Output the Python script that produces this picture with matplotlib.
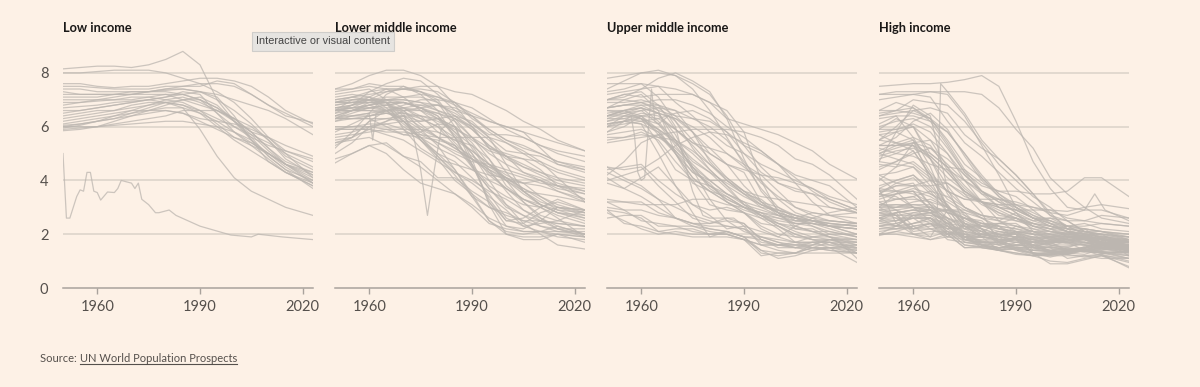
import matplotlib.pyplot as plt
from matplotlib.lines import Line2D

# 合計特殊出生率 (births per woman)
YEARS = [1950, 1955, 1960, 1965, 1970, 1975, 1980, 1985, 1990, 1995, 2000, 2005, 2010, 2015, 2023]

LOW_INCOME = [
   [8.15, 8.2, 8.25, 8.25, 8.2, 8.3, 8.5, 8.8, 8.3, 7.0, 6.2, 5.7, 5.1, 4.6, 3.9],
   [8.0, 8.0, 8.05, 8.1, 8.1, 8.1, 8.0, 7.8, 7.6, 7.3, 6.9, 6.3, 5.6, 5.0, 4.1],
   [7.6, 7.6, 7.5, 7.45, 7.5, 7.5, 7.6, 7.7, 7.8, 7.8, 7.7, 7.5, 7.1, 6.6, 6.1],
   [7.5, 7.5, 7.45, 7.4, 7.4, 7.4, 7.5, 7.5, 7.5, 7.7, 7.6, 7.2, 6.8, 6.5, 6.0],
   [7.4, 7.4, 7.3, 7.3, 7.3, 7.3, 7.35, 7.4, 7.3, 7.2, 7.0, 6.8, 6.6, 6.3, 5.7],
   [7.3, 7.2, 7.2, 7.2, 7.2, 7.2, 7.2, 7.0, 6.8, 6.6, 6.2, 5.8, 5.6, 5.3, 4.9],
   [7.1, 7.1, 7.1, 7.2, 7.2, 7.3, 7.3, 7.2, 7.0, 6.5, 6.0, 5.6, 5.3, 5.1, 4.8],
   [7.0, 7.0, 7.0, 7.0, 7.1, 7.1, 7.0, 6.9, 6.6, 6.1, 5.6, 5.4, 5.0, 4.6, 4.3],
   [6.9, 6.9, 6.95, 7.0, 7.0, 7.1, 7.2, 7.2, 7.0, 6.7, 6.2, 5.6, 4.9, 4.4, 4.0],
   [6.7, 6.75, 6.8, 6.9, 6.95, 7.0, 7.1, 7.2, 7.3, 7.1, 6.4, 5.5, 4.7, 4.3, 3.8],
   [6.6, 6.6, 6.7, 6.8, 6.9, 7.0, 7.1, 7.3, 7.2, 6.5, 5.8, 5.3, 4.8, 4.3, 3.9],
   [6.4, 6.5, 6.6, 6.6, 6.7, 6.8, 7.0, 7.1, 6.9, 6.6, 6.3, 6.0, 5.5, 4.8, 4.2],
   [6.3, 6.4, 6.5, 6.6, 6.8, 6.9, 6.9, 6.8, 6.6, 6.3, 6.0, 5.7, 5.4, 5.0, 4.5],
   [6.2, 6.3, 6.4, 6.5, 6.6, 6.6, 6.6, 6.5, 6.2, 5.9, 5.6, 5.3, 5.0, 4.6, 4.1],
   [6.1, 6.2, 6.3, 6.4, 6.5, 6.7, 6.9, 7.0, 7.0, 6.7, 6.3, 5.8, 5.2, 4.6, 4.0],
   [6.0, 6.1, 6.2, 6.3, 6.5, 6.6, 6.7, 6.7, 6.5, 6.2, 5.8, 5.4, 5.0, 4.5, 3.9],
   [5.95, 6.05, 6.2, 6.4, 6.6, 6.8, 6.9, 6.8, 6.5, 6.0, 5.5, 5.1, 4.7, 4.3, 3.8],
   [5.9, 5.95, 6.0, 6.1, 6.2, 6.3, 6.4, 6.6, 6.6, 6.6, 6.3, 5.8, 5.2, 4.7, 4.3],
   [5.85, 5.9, 6.0, 6.2, 6.4, 6.5, 6.6, 6.5, 6.3, 6.2, 6.1, 5.9, 5.6, 5.1, 4.7],
   [6.5, 6.6, 6.7, 6.8, 6.9, 7.0, 6.9, 6.7, 5.9, 4.9, 4.1, 3.6, 3.3, 3.0, 2.7],
   [6.0, 6.0, 6.0, 6.05, 6.1, 6.15, 6.2, 6.2, 6.1, 6.0, 5.8, 5.5, 5.0, 4.6, 4.2],
   [7.2, 7.2, 7.2, 7.2, 7.3, 7.3, 7.4, 7.5, 7.6, 7.6, 7.5, 7.2, 6.8, 6.4, 6.15],
   [6.8, 6.9, 7.0, 7.1, 7.2, 7.3, 7.4, 7.4, 7.3, 7.0, 6.6, 6.1, 5.5, 4.9, 4.4],
   [6.05, 6.1, 6.2, 6.3, 6.4, 6.6, 6.8, 7.0, 7.1, 6.8, 6.2, 5.5, 4.9, 4.4, 3.7],
]
NK_YEARS = [1950, 1951, 1952, 1954, 1955, 1956, 1957, 1958, 1959, 1960,
            1961, 1963, 1965, 1966, 1967, 1970, 1971, 1972, 1973, 1975,
            1977, 1978, 1981, 1983, 1990, 1999, 2005, 2007, 2014, 2023]
NK_TFR = [5.0, 2.6, 2.6, 3.4, 3.65, 3.6, 4.3, 4.3, 3.6, 3.55,
          3.27, 3.57, 3.55, 3.7, 4.0, 3.9, 3.7, 3.9, 3.3, 3.1,
          2.8, 2.8, 2.9, 2.7, 2.3, 1.97, 1.9, 2.0, 1.9, 1.8]

LOWER_MIDDLE = [
   [6.6, 6.7, 6.7, 6.6, 6.0, 5.6, 5.5, 5.3, 4.6, 3.8, 3.4, 3.1, 3.0, 3.3, 2.9],
   [5.9, 5.9, 5.9, 5.7, 5.5, 5.1, 4.7, 4.3, 4.0, 3.6, 3.3, 2.9, 2.6, 2.3, 2.0],
   [6.6, 6.6, 6.6, 6.6, 6.6, 6.6, 6.5, 6.3, 6.0, 5.5, 4.9, 4.3, 4.0, 3.7, 3.5],
   [6.4, 6.6, 6.8, 6.9, 6.9, 6.7, 6.4, 5.6, 4.5, 3.7, 3.1, 2.7, 2.3, 2.1, 2.0],
   [6.3, 6.4, 6.5, 6.6, 6.7, 6.8, 6.8, 6.6, 6.4, 6.2, 6.0, 5.8, 5.6, 5.4, 5.1],
   [7.4, 7.6, 7.9, 8.1, 8.1, 7.9, 7.5, 6.8, 6.0, 5.2, 5.0, 4.8, 4.4, 3.8, 3.3],
   [7.1, 7.2, 7.1, 6.7, 6.2, 5.6, 5.2, 4.9, 4.4, 4.0, 3.7, 3.3, 3.0, 2.6, 1.9],
   [5.3, 5.6, 6.2, 6.3, 6.4, 5.5, 4.8, 4.0, 3.5, 2.5, 2.0, 1.9, 1.9, 2.0, 1.9],
   [6.3, 6.5, 6.7, 6.8, 6.9, 6.7, 6.5, 6.2, 5.6, 5.0, 4.6, 4.3, 4.1, 3.8, 3.6],
   [6.9, 7.0, 7.0, 6.9, 6.6, 5.9, 5.3, 4.4, 3.5, 3.0, 2.7, 2.5, 2.5, 2.4, 2.3],
   [7.3, 7.4, 7.6, 7.5, 7.5, 7.2, 6.6, 5.6, 4.6, 3.3, 2.5, 2.4, 2.8, 3.0, 2.9],
   [6.6, 7.0, 7.0, 6.9, 6.2, 5.5, 5.0, 4.4, 3.4, 2.5, 2.1, 2.0, 2.1, 2.3, 2.0],
   [6.9, 6.9, 6.9, 6.9, 6.4, 6.2, 6.3, 6.0, 4.8, 3.1, 2.0, 1.8, 1.8, 2.0, 1.7],
   [6.0, 6.0, 6.0, 6.1, 6.2, 6.2, 6.3, 6.4, 6.2, 5.6, 4.6, 3.6, 3.1, 2.8, 2.5],
   [5.9, 6.0, 6.1, 6.1, 5.9, 5.5, 4.9, 4.2, 3.4, 3.0, 2.8, 2.5, 2.3, 2.2, 2.2],
   [5.2, 5.8, 6.5, 7.2, 7.5, 7.3, 6.9, 6.0, 4.6, 3.2, 2.3, 2.2, 2.5, 3.0, 2.7],
   [5.6, 5.7, 5.8, 5.9, 5.9, 5.9, 5.8, 5.5, 5.1, 4.6, 4.0, 3.2, 2.6, 2.2, 2.0],
   [4.65, 5.0, 5.3, 5.0, 4.4, 3.9, 3.7, 3.5, 3.0, 2.4, 2.2, 2.1, 2.1, 2.0, 1.9],
   [6.6, 6.6, 6.6, 6.5, 6.4, 6.0, 5.6, 5.2, 4.8, 4.4, 4.0, 3.5, 3.1, 2.8, 2.6],
   [7.4, 7.4, 7.5, 7.4, 7.1, 6.6, 6.1, 5.4, 4.8, 4.3, 3.7, 3.2, 2.7, 2.5, 2.3],
   [7.2, 7.3, 7.4, 7.0, 6.7, 6.3, 6.0, 5.3, 4.5, 3.7, 3.0, 2.7, 2.5, 2.4, 2.3],
   [6.6, 6.7, 6.8, 6.6, 6.1, 5.6, 4.9, 4.3, 3.9, 3.4, 2.9, 2.3, 2.1, 1.9, 1.8],
   [6.3, 6.3, 6.3, 6.0, 5.7, 5.8, 6.1, 6.0, 5.4, 4.6, 4.2, 3.9, 3.4, 3.0, 2.8],
   [6.7, 6.8, 7.1, 7.4, 7.4, 7.3, 7.1, 6.8, 6.5, 6.2, 6.0, 5.8, 5.2, 4.6, 4.3],
   [6.7, 6.8, 6.9, 7.0, 7.0, 6.9, 6.8, 6.5, 6.1, 5.7, 5.7, 5.6, 5.3, 5.0, 4.7],
   [6.6, 6.8, 7.0, 7.3, 7.4, 7.4, 7.3, 6.9, 6.3, 5.9, 5.5, 5.2, 5.0, 4.7, 4.4],
   [5.5, 5.6, 5.9, 6.2, 6.6, 6.7, 6.8, 6.7, 6.4, 5.9, 5.5, 5.3, 5.0, 4.7, 4.5],
   [6.5, 6.8, 7.3, 7.6, 7.8, 7.7, 7.2, 6.6, 6.1, 5.6, 5.1, 5.0, 4.9, 4.6, 4.4],
   [7.0, 7.1, 7.2, 7.3, 7.4, 7.5, 7.5, 7.3, 7.2, 6.9, 6.6, 6.2, 5.9, 5.5, 5.1],
   [5.8, 6.1, 6.4, 6.6, 6.8, 7.0, 7.0, 6.9, 6.7, 6.3, 5.9, 5.6, 5.3, 5.1, 4.9],
   [5.9, 5.9, 5.9, 5.8, 5.8, 5.7, 5.6, 5.3, 4.9, 4.5, 4.1, 3.6, 3.2, 3.0, 2.9],
   [6.9, 7.1, 7.3, 7.4, 7.4, 7.3, 7.0, 6.2, 5.2, 4.3, 4.0, 3.9, 4.0, 3.8, 3.5],
   [4.8, 5.0, 5.3, 5.4, 4.9, 4.7, 4.1, 4.1, 3.6, 3.2, 2.5, 2.6, 3.0, 3.2, 2.9],
   [5.0, 5.4, 6.0, 5.9, 5.7, 5.6, 5.0, 4.7, 4.1, 3.5, 2.6, 2.3, 2.4, 2.5, 2.9],
   [5.4, 5.6, 6.2, 6.6, 6.7, 6.4, 5.8, 5.5, 5.3, 4.8, 4.0, 3.6, 3.5, 3.4, 3.2],
   [6.3, 6.3, 6.3, 6.3, 6.2, 5.8, 5.4, 5.0, 4.7, 4.6, 4.4, 4.2, 4.0, 3.6, 3.2],
   [6.4, 6.6, 6.8, 7.0, 7.1, 7.1, 6.9, 6.4, 5.9, 5.3, 4.8, 4.5, 4.3, 4.1, 3.9],
   [6.5, 6.6, 6.7, 6.8, 6.9, 6.8, 6.6, 6.3, 5.9, 5.3, 4.9, 4.5, 4.2, 3.9, 3.6],
   [6.7, 6.7, 6.8, 6.9, 6.9, 6.7, 6.3, 5.7, 5.0, 4.2, 3.7, 3.3, 3.1, 2.9, 2.8],
   [6.6, 6.6, 6.7, 6.7, 6.7, 6.6, 6.3, 5.8, 5.0, 4.0, 3.1, 2.4, 2.0, 1.6, 1.45],
   [6.6, 6.7, 7.0, 7.0, 6.9, 6.7, 6.4, 5.8, 5.3, 4.4, 3.6, 2.9, 2.5, 2.2, 1.9],
   [5.4, 5.5, 5.6, 5.3, 4.9, 4.5, 4.0, 3.5, 3.1, 2.6, 2.3, 2.1, 2.1, 2.1, 2.1],
   [6.8, 6.9, 7.0, 7.1, 7.1, 7.2, 7.1, 6.9, 6.4, 5.8, 5.4, 5.0, 4.6, 4.3, 4.0],
   [5.7, 5.8, 6.0, 6.2, 6.4, 6.4, 6.3, 6.0, 5.5, 5.1, 4.9, 4.8, 4.7, 4.4, 4.1],
   [6.8, 6.9, 7.0, 7.0, 7.0, 6.9, 6.6, 6.4, 6.0, 5.2, 4.3, 3.6, 3.1, 2.8, 2.7],
   [6.9, 7.0, 7.1, 6.9, 5.9, 5.2, 4.8, 4.6, 4.4, 4.2, 4.1, 3.9, 3.8, 3.6, 3.3],
   [6.9, 6.9, 6.9, 6.8, 6.6, 6.1, 5.6, 5.2, 4.8, 4.4, 4.1, 3.7, 3.3, 2.9, 2.6],
   [6.4, 6.4, 6.4, 6.5, 6.3, 5.9, 5.6, 5.6, 5.6, 5.6, 5.4, 5.1, 4.7, 4.1, 3.2],
   [6.2, 6.3, 6.4, 6.5, 6.5, 6.4, 6.2, 5.9, 5.6, 5.2, 4.9, 4.6, 4.3, 4.0, 3.8],
   [7.0, 7.1, 7.0, 6.6, 6.2, 5.7, 5.4, 5.1, 4.8, 4.5, 4.3, 4.1, 3.9, 3.8, 3.7],
]
KH_YEARS = [1950, 1955, 1960, 1965, 1970, 1973, 1975, 1977, 1979, 1981, 1985,
            1990, 1995, 2000, 2005, 2010, 2015, 2023]
KH_TFR = [6.3, 6.6, 6.9, 6.9, 6.5, 5.6, 4.4, 2.7, 4.4, 5.9, 6.3,
          5.6, 4.8, 3.8, 3.3, 3.0, 2.7, 2.4]
LM_DIP_YEARS = [1950, 1955, 1960, 1961, 1962, 1965, 1970, 1975, 1980, 1985,
                1990, 1995, 2000, 2005, 2010, 2015, 2023]
LM_DIP_TFR = [6.2, 6.4, 6.5, 5.5, 6.5, 6.6, 6.5, 6.3, 6.0, 5.6,
              5.1, 4.6, 4.1, 3.7, 3.4, 3.1, 2.8]

UPPER_MIDDLE = [
   [6.1, 6.2, 6.1, 5.8, 5.0, 4.3, 3.9, 3.2, 2.8, 2.4, 2.3, 2.0, 1.8, 1.8, 1.6],
   [6.7, 6.8, 6.8, 6.8, 6.6, 5.8, 4.7, 4.0, 3.5, 3.0, 2.7, 2.4, 2.3, 2.0, 1.8],
   [5.5, 5.6, 5.7, 5.6, 5.5, 5.0, 4.4, 3.8, 3.1, 2.7, 2.5, 2.4, 2.4, 2.3, 2.2],
   [6.6, 6.6, 6.3, 5.9, 5.4, 4.8, 4.3, 3.7, 3.1, 2.7, 2.4, 2.2, 2.1, 2.1, 1.9],
   [6.1, 6.2, 6.3, 6.1, 5.5, 4.4, 3.3, 2.5, 2.1, 1.9, 1.7, 1.6, 1.5, 1.4, 1.3],
   [6.4, 6.6, 6.8, 6.5, 5.5, 4.4, 3.8, 3.4, 3.0, 2.8, 2.4, 2.1, 1.9, 1.8, 1.7],
   [6.3, 6.3, 6.2, 5.9, 5.5, 5.1, 4.6, 4.1, 3.6, 3.1, 2.8, 2.6, 2.5, 2.4, 2.3],
   [2.9, 2.8, 2.6, 2.1, 2.0, 1.9, 1.9, 2.1, 1.9, 1.3, 1.2, 1.3, 1.6, 1.8, 1.5],
   [3.2, 3.2, 3.1, 3.1, 3.1, 3.3, 3.3, 3.1, 3.0, 2.8, 2.6, 2.4, 2.4, 2.2, 1.9],
   [6.9, 6.9, 7.0, 6.8, 6.4, 5.8, 5.2, 4.6, 3.8, 3.2, 2.8, 2.6, 2.5, 2.3, 2.2],
   [6.2, 6.4, 6.3, 5.8, 5.1, 4.3, 4.0, 4.0, 3.5, 3.3, 2.8, 2.3, 2.1, 1.9, 1.8],
   [7.2, 7.3, 7.4, 7.5, 7.4, 7.2, 6.9, 6.3, 6.1, 5.9, 5.7, 5.4, 5.1, 4.6, 4.05],
   [7.4, 7.7, 8.0, 8.0, 7.9, 7.6, 7.2, 6.4, 5.3, 4.5, 3.9, 3.7, 3.5, 3.0, 2.8],
   [7.0, 7.1, 7.4, 7.8, 8.0, 7.7, 7.3, 6.3, 4.8, 3.6, 2.9, 2.5, 2.4, 2.3, 2.4],
   [7.0, 7.0, 6.9, 6.6, 6.4, 6.3, 6.2, 5.8, 5.3, 5.0, 4.6, 3.9, 3.2, 2.7, 2.4],
   [6.4, 6.4, 6.4, 6.3, 5.9, 5.4, 5.2, 5.0, 4.6, 4.2, 3.6, 3.0, 2.7, 2.5, 2.4],
   [6.7, 6.8, 6.9, 6.7, 6.2, 5.5, 4.8, 4.1, 3.6, 3.2, 3.0, 2.7, 2.5, 2.3, 2.0],
   [7.6, 7.6, 7.6, 7.1, 6.2, 5.2, 4.4, 3.8, 3.4, 3.1, 2.9, 2.7, 2.5, 2.3, 2.2],
   [4.4, 4.5, 4.6, 4.0, 3.5, 3.1, 2.9, 3.0, 2.8, 2.2, 1.9, 2.3, 2.6, 2.8, 3.0],
   [4.5, 4.4, 4.5, 3.8, 3.2, 2.6, 2.4, 2.5, 2.4, 1.8, 1.6, 1.6, 1.6, 1.6, 1.6],
   [5.6, 5.6, 5.8, 5.5, 4.7, 4.0, 3.1, 2.9, 2.8, 2.3, 2.0, 1.9, 1.9, 1.9, 1.6],
   [3.0, 2.9, 2.9, 2.7, 2.6, 2.4, 2.3, 2.3, 2.2, 1.7, 1.6, 1.7, 1.9, 2.0, 2.0],
   [2.6, 2.7, 2.7, 2.3, 2.3, 2.1, 2.0, 2.1, 1.9, 1.4, 1.3, 1.3, 1.5, 1.7, 1.3],
   [2.9, 2.4, 2.3, 2.1, 2.2, 2.2, 2.0, 2.0, 1.8, 1.2, 1.3, 1.3, 1.5, 1.5, 1.6],
   [3.2, 2.9, 2.5, 2.4, 2.3, 2.3, 2.2, 2.1, 1.9, 1.8, 1.6, 1.5, 1.4, 1.5, 1.5],
   [4.3, 4.0, 3.7, 3.3, 2.6, 2.3, 2.1, 2.0, 1.8, 1.6, 1.4, 1.3, 1.3, 1.3, 1.3],
   [6.1, 6.2, 6.4, 5.7, 5.1, 4.5, 3.7, 3.3, 3.0, 2.6, 2.2, 1.7, 1.7, 1.5, 1.4],
   [4.5, 4.1, 3.8, 3.3, 3.0, 2.7, 2.5, 2.3, 2.2, 1.9, 1.7, 1.5, 1.5, 1.5, 1.3],
   [3.3, 3.2, 3.2, 2.8, 2.6, 2.4, 2.4, 2.6, 2.4, 1.8, 1.5, 1.5, 1.6, 1.8, 1.8],
   [3.9, 3.7, 3.4, 3.0, 2.6, 2.4, 2.2, 2.1, 1.9, 1.9, 1.8, 1.7, 1.7, 1.7, 1.7],
   [4.1, 3.7, 4.1, 4.5, 3.8, 2.8, 1.9, 1.9, 1.8, 1.6, 1.6, 1.5, 1.7, 1.7, 1.45],
   [4.2, 4.7, 5.4, 5.7, 5.0, 4.1, 3.6, 3.2, 2.8, 2.6, 2.4, 2.3, 2.1, 1.9, 1.3],
   [6.7, 7.0, 7.2, 6.6, 5.0, 3.9, 3.6, 3.4, 3.0, 2.7, 2.3, 1.9, 1.8, 1.7, 1.5],
   [5.7, 5.8, 5.9, 5.6, 5.2, 4.6, 4.0, 3.5, 3.1, 2.9, 2.7, 2.5, 2.5, 2.4, 2.3],
   [4.0, 4.2, 4.4, 4.8, 5.3, 5.6, 5.8, 5.7, 5.4, 5.1, 4.6, 4.2, 4.0, 3.8, 3.0],
   [5.4, 5.5, 5.6, 5.7, 5.8, 5.9, 5.9, 5.9, 5.8, 5.6, 5.3, 4.8, 4.6, 4.2, 3.3],
   [6.4, 6.5, 6.6, 6.7, 6.6, 6.3, 6.0, 5.5, 4.7, 3.9, 3.4, 3.0, 2.8, 2.7, 2.8],
   [6.0, 6.1, 6.2, 6.3, 6.5, 6.6, 6.3, 5.8, 5.0, 4.3, 3.9, 3.6, 3.5, 3.3, 2.9],
   [6.6, 6.5, 6.3, 5.4, 4.4, 4.0, 3.8, 3.5, 3.2, 3.0, 2.9, 2.7, 2.6, 2.5, 2.4],
   [7.3, 7.4, 7.6, 7.5, 6.9, 6.4, 5.8, 5.3, 5.0, 4.6, 4.3, 4.0, 3.7, 3.3, 2.9],
   [5.8, 6.0, 6.4, 6.5, 6.3, 5.8, 5.0, 4.6, 4.3, 3.2, 2.7, 2.6, 2.8, 2.7, 2.6],
   [6.3, 6.5, 6.7, 6.5, 5.7, 4.5, 3.8, 3.3, 3.0, 2.8, 2.7, 2.6, 2.5, 2.4, 2.3],
   [6.4, 6.6, 6.4, 5.9, 5.0, 4.1, 3.6, 3.2, 2.9, 2.7, 2.6, 2.5, 2.5, 2.5, 2.4],
   [6.4, 6.6, 6.7, 6.5, 6.3, 6.0, 5.6, 5.0, 4.5, 4.0, 3.3, 2.8, 2.6, 2.3, 2.0],
   [7.0, 7.2, 7.1, 7.2, 7.2, 7.2, 6.9, 6.6, 5.8, 4.0, 2.8, 2.2, 2.2, 1.9, 1.7],
   [2.8, 2.5, 2.2, 2.0, 2.1, 2.0, 2.0, 2.0, 1.8, 1.4, 1.1, 1.2, 1.4, 1.5, 0.95],
   [6.0, 6.2, 6.1, 5.0, 3.8, 3.1, 2.7, 2.2, 2.3, 2.1, 1.9, 1.7, 1.5, 1.4, 1.3],
   [7.0, 7.2, 7.3, 6.8, 5.9, 5.4, 5.0, 4.6, 4.4, 4.2, 4.1, 3.9, 3.7, 3.4, 3.1],
   [6.7, 6.8, 6.9, 7.0, 7.0, 6.8, 6.5, 6.0, 5.6, 5.1, 4.6, 4.1, 3.6, 3.2, 2.8],
   [6.0, 6.4, 6.6, 6.1, 5.3, 4.5, 4.0, 3.5, 3.2, 2.7, 2.3, 2.0, 1.8, 1.6, 1.4],
   [6.5, 6.6, 6.7, 6.2, 5.4, 4.7, 4.3, 3.9, 3.5, 3.1, 2.8, 2.6, 2.4, 2.3, 2.2],
   [6.2, 6.3, 6.5, 6.4, 5.9, 5.3, 4.6, 4.0, 3.6, 3.4, 3.3, 3.2, 3.1, 3.0, 2.8],
   [7.8, 7.9, 8.0, 8.1, 7.9, 7.4, 6.6, 5.6, 4.6, 3.7, 3.0, 2.6, 2.3, 2.1, 1.9],
]
CN_YEARS = [1950, 1955, 1957, 1958, 1959, 1960, 1961, 1962, 1963, 1964,
            1965, 1968, 1970, 1972, 1975, 1978, 1980, 1985, 1987, 1990,
            1995, 2000, 2005, 2010, 2015, 2017, 2023]
CN_TFR = [5.8, 6.2, 6.4, 5.7, 4.3, 4.0, 4.1, 5.8, 7.4, 6.2,
          6.1, 6.4, 6.0, 5.0, 3.6, 2.7, 2.6, 2.6, 2.6, 2.3,
          1.6, 1.6, 1.6, 1.7, 1.8, 1.8, 1.1]

HIGH_INCOME = [
   [3.0, 3.5, 3.6, 2.9, 2.4, 1.8, 1.8, 1.8, 2.1, 2.0, 2.0, 2.05, 1.9, 1.85, 1.65],
   [2.2, 2.3, 2.7, 2.8, 2.4, 1.8, 1.9, 1.8, 1.8, 1.7, 1.65, 1.8, 1.9, 1.8, 1.55],
   [2.9, 2.7, 2.7, 2.8, 2.5, 1.9, 1.9, 1.8, 1.8, 1.7, 1.9, 1.9, 2.0, 1.9, 1.8],
   [2.1, 2.2, 2.4, 2.5, 2.0, 1.5, 1.55, 1.4, 1.45, 1.25, 1.35, 1.35, 1.4, 1.5, 1.55],
   [2.5, 2.3, 2.4, 2.6, 2.4, 2.1, 1.6, 1.4, 1.3, 1.2, 1.25, 1.3, 1.45, 1.35, 1.25],
   [2.5, 2.5, 2.8, 2.9, 2.9, 2.8, 2.2, 1.6, 1.4, 1.2, 1.2, 1.35, 1.35, 1.35, 1.2],
   [3.7, 2.4, 2.0, 2.1, 2.1, 1.9, 1.75, 1.75, 1.55, 1.4, 1.35, 1.3, 1.4, 1.45, 1.3],
   [3.5, 3.8, 3.8, 3.1, 2.3, 1.8, 1.7, 1.6, 1.7, 1.6, 1.5, 1.55, 1.65, 1.6, 1.45],
   [3.1, 3.3, 3.4, 3.0, 2.9, 2.2, 1.9, 1.9, 1.9, 1.8, 1.75, 1.85, 1.95, 1.8, 1.7],
   [3.1, 3.1, 3.1, 3.0, 2.6, 1.7, 1.6, 1.5, 1.6, 1.55, 1.7, 1.7, 1.8, 1.65, 1.6],
   [2.3, 2.2, 2.2, 2.4, 1.9, 1.8, 1.7, 1.7, 2.1, 1.7, 1.55, 1.75, 1.95, 1.85, 1.7],
   [2.5, 2.8, 2.9, 2.9, 2.5, 2.0, 1.7, 1.7, 1.9, 1.85, 1.85, 1.85, 1.95, 1.7, 1.5],
   [2.6, 2.5, 2.6, 2.6, 2.0, 1.9, 1.5, 1.45, 1.7, 1.8, 1.75, 1.8, 1.85, 1.7, 1.7],
   [3.2, 2.9, 2.7, 2.4, 1.8, 1.7, 1.6, 1.65, 1.8, 1.8, 1.7, 1.8, 1.85, 1.65, 1.45],
   [2.3, 2.4, 2.6, 2.6, 2.2, 1.7, 1.7, 1.5, 1.6, 1.55, 1.65, 1.75, 1.85, 1.7, 1.6],
   [2.0, 2.3, 2.7, 2.7, 2.3, 1.8, 1.65, 1.45, 1.45, 1.4, 1.35, 1.4, 1.45, 1.5, 1.45],
   [2.4, 2.3, 2.4, 2.6, 2.1, 1.6, 1.55, 1.5, 1.6, 1.5, 1.5, 1.45, 1.5, 1.55, 1.5],
   [3.4, 3.6, 3.8, 4.0, 3.9, 3.4, 3.2, 2.5, 2.1, 1.85, 1.9, 1.95, 2.05, 1.85, 1.75],
   [3.1, 3.0, 3.1, 3.1, 2.8, 2.6, 2.2, 1.7, 1.5, 1.4, 1.55, 1.4, 1.35, 1.3, 1.35],
   [2.6, 2.3, 2.2, 2.3, 2.4, 2.3, 2.2, 1.7, 1.4, 1.3, 1.25, 1.35, 1.45, 1.3, 1.35],
   [3.6, 3.6, 3.0, 2.5, 2.2, 2.3, 2.3, 2.3, 2.0, 1.6, 1.35, 1.25, 1.4, 1.3, 1.35],
   [2.8, 2.7, 2.1, 2.2, 1.9, 2.4, 2.1, 2.0, 1.9, 1.3, 1.15, 1.3, 1.5, 1.6, 1.8],
   [2.6, 2.8, 2.0, 1.8, 2.0, 2.3, 1.9, 1.8, 1.85, 1.6, 1.3, 1.3, 1.25, 1.45, 1.6],
   [3.5, 3.4, 3.0, 2.8, 2.4, 2.6, 2.3, 2.2, 2.1, 1.5, 1.3, 1.25, 1.4, 1.4, 1.6],
   [3.0, 2.7, 2.2, 2.2, 2.0, 2.0, 1.9, 1.8, 1.7, 1.6, 1.4, 1.45, 1.5, 1.4, 1.55],
   [2.8, 2.6, 2.2, 2.4, 2.2, 2.2, 2.1, 1.7, 1.45, 1.3, 1.25, 1.25, 1.55, 1.55, 1.6],
   [2.0, 2.1, 2.0, 1.9, 2.1, 2.0, 2.0, 2.1, 2.0, 1.4, 1.4, 1.5, 1.7, 1.55, 1.6],
   [2.0, 2.0, 1.9, 1.8, 1.9, 1.9, 1.9, 2.1, 2.0, 1.25, 1.25, 1.4, 1.35, 1.7, 1.55],
   [2.6, 2.6, 2.6, 2.2, 2.3, 2.1, 2.0, 2.0, 2.0, 1.5, 1.4, 1.3, 1.5, 1.7, 1.35],
   [2.9, 2.9, 2.3, 1.9, 2.9, 2.6, 2.4, 2.3, 1.8, 1.3, 1.3, 1.35, 1.5, 1.6, 1.8],
   [3.5, 3.9, 4.1, 3.5, 3.1, 2.3, 2.0, 1.9, 2.1, 2.0, 1.95, 2.0, 2.1, 1.95, 1.7],
   [3.8, 4.0, 4.2, 3.6, 2.8, 2.6, 2.5, 1.9, 2.3, 2.1, 2.1, 2.05, 2.2, 1.8, 1.8],
   [1.95, 2.1, 2.3, 2.4, 2.0, 1.5, 1.5, 1.4, 1.6, 1.7, 1.75, 1.65, 1.6, 1.45, 1.35],
   [4.2, 3.9, 3.8, 3.8, 3.9, 3.5, 3.2, 3.1, 2.9, 2.9, 2.9, 2.85, 3.0, 3.1, 2.95],
   [2.7, 2.8, 2.9, 2.8, 2.9, 2.9, 2.7, 2.6, 2.5, 2.4, 2.2, 2.1, 2.0, 2.0, 1.5],
   [4.8, 5.0, 5.3, 4.8, 3.8, 3.0, 2.7, 2.6, 2.6, 2.3, 2.1, 1.95, 1.85, 1.75, 1.55],
   [3.7, 3.6, 3.5, 3.2, 2.6, 2.2, 2.4, 2.4, 2.4, 2.0, 1.6, 1.45, 1.45, 1.35, 1.35],
   [4.1, 3.6, 3.6, 2.9, 2.0, 2.1, 1.95, 1.95, 2.05, 1.9, 1.7, 1.4, 1.35, 1.35, 1.1],
   [5.0, 4.8, 4.6, 4.1, 3.3, 2.9, 2.6, 2.3, 2.2, 2.0, 1.85, 1.7, 1.4, 1.2, 0.95],
   [5.9, 6.3, 6.0, 5.0, 4.5, 3.5, 2.8, 1.7, 1.6, 1.6, 1.5, 1.1, 1.2, 1.25, 0.75],
   [6.1, 6.4, 5.6, 4.5, 3.0, 2.0, 1.75, 1.6, 1.85, 1.7, 1.35, 1.25, 1.15, 1.25, 1.0],
   [4.4, 4.7, 5.1, 4.2, 3.0, 2.3, 1.9, 1.4, 1.25, 1.2, 1.0, 0.95, 1.1, 1.2, 0.8],
   [5.0, 5.3, 5.5, 4.0, 2.8, 1.9, 2.0, 1.9, 1.8, 1.3, 0.9, 0.9, 1.05, 1.2, 1.1],
   [7.2, 7.2, 7.2, 7.3, 7.3, 7.3, 7.2, 6.7, 5.9, 5.2, 4.1, 3.5, 3.0, 2.6, 2.4],
   [7.5, 7.55, 7.6, 7.6, 7.65, 7.75, 7.9, 7.5, 6.2, 4.7, 3.7, 3.0, 2.9, 2.9, 2.6],
   [7.2, 7.3, 7.3, 7.3, 7.2, 6.4, 5.3, 4.2, 3.0, 2.6, 2.6, 2.3, 2.4, 2.2, 2.1],
   [6.5, 6.6, 7.0, 6.9, 6.8, 6.2, 5.4, 4.6, 4.0, 3.4, 3.0, 2.5, 2.1, 1.9, 1.8],
   [6.4, 6.5, 6.6, 6.7, 6.5, 5.7, 5.2, 4.8, 4.2, 3.5, 2.8, 2.2, 1.8, 1.6, 1.45],
   [7.0, 7.1, 7.2, 7.1, 6.2, 5.4, 4.9, 4.3, 3.7, 3.2, 2.7, 2.5, 2.1, 2.0, 1.8],
   [6.6, 6.9, 6.7, 6.2, 5.3, 4.3, 3.8, 3.6, 3.4, 2.9, 2.4, 2.1, 1.9, 1.8, 1.7],
   [5.3, 5.3, 5.3, 4.3, 3.6, 3.3, 3.3, 3.3, 2.8, 2.1, 1.8, 1.7, 1.7, 1.7, 1.6],
   [4.7, 4.6, 4.5, 3.8, 3.1, 2.3, 1.9, 1.8, 1.7, 1.7, 1.7, 1.7, 1.7, 1.6, 1.6],
   [4.2, 4.3, 4.5, 4.0, 3.6, 3.3, 3.2, 2.7, 2.6, 2.3, 2.2, 1.9, 1.8, 1.5, 1.4],
   [5.9, 5.9, 6.1, 5.8, 5.0, 4.2, 3.6, 3.2, 2.8, 2.3, 2.2, 2.3, 2.3, 2.4, 2.3],
   [5.5, 5.4, 5.3, 5.0, 4.5, 4.4, 3.9, 3.6, 3.6, 3.5, 3.5, 3.6, 4.1, 4.1, 3.4],
   [4.7, 5.8, 6.8, 6.4, 3.7, 2.4, 2.3, 2.4, 2.6, 2.4, 2.3, 2.2, 2.1, 2.0, 1.9],
   [5.5, 5.8, 5.5, 4.8, 4.1, 3.6, 3.2, 3.1, 3.1, 3.0, 2.9, 2.6, 2.5, 2.7, 2.6],
   [5.5, 6.0, 6.6, 6.3, 5.5, 4.6, 4.1, 3.5, 3.1, 2.7, 2.4, 2.1, 2.0, 1.8, 1.6],
   [4.0, 4.5, 5.4, 5.5, 5.0, 4.0, 3.2, 3.0, 2.9, 2.6, 2.5, 2.2, 2.2, 2.1, 2.0],
   [5.7, 5.4, 5.1, 4.2, 3.0, 2.4, 2.1, 2.4, 2.3, 2.1, 1.9, 1.8, 1.8, 1.8, 1.2],
   [4.6, 4.5, 4.7, 4.2, 3.6, 3.0, 2.6, 2.2, 2.1, 2.0, 1.9, 1.7, 1.6, 1.6, 1.6],
   [5.7, 5.8, 6.0, 5.5, 4.5, 3.8, 3.2, 2.8, 2.6, 2.4, 2.3, 2.1, 1.9, 1.7, 1.55],
   [3.3, 3.5, 3.7, 3.5, 3.2, 2.8, 2.6, 2.5, 2.8, 2.5, 2.6, 2.5, 2.5, 2.4, 2.3],
   [3.6, 3.8, 3.9, 3.1, 2.5, 1.9, 1.7, 1.7, 1.8, 1.7, 1.8, 1.8, 1.7, 1.5, 1.4],
   [3.7, 4.0, 4.2, 3.7, 3.0, 2.4, 2.0, 1.9, 1.8, 1.7, 1.6, 1.5, 1.4, 1.3, 1.1],
   [2.3, 2.4, 2.6, 2.6, 2.1, 1.6, 1.5, 1.4, 1.5, 1.5, 1.4, 1.4, 1.5, 1.5, 1.4],
   [2.4, 2.5, 2.7, 2.6, 2.3, 1.9, 1.9, 1.8, 1.8, 1.6, 1.7, 1.7, 1.8, 1.6, 1.5],
   [2.6, 2.8, 2.9, 2.8, 2.4, 1.8, 1.6, 1.5, 1.5, 1.5, 1.5, 1.4, 1.4, 1.5, 1.4],
   [2.2, 2.2, 2.3, 2.4, 2.3, 1.9, 1.6, 1.4, 1.3, 1.2, 1.3, 1.4, 1.4, 1.3, 1.2],
   [3.0, 3.0, 3.0, 2.9, 2.6, 2.3, 2.1, 1.8, 1.5, 1.3, 1.2, 1.2, 1.2, 1.1, 1.1],
   [2.7, 2.7, 2.8, 2.7, 2.6, 2.4, 2.2, 2.0, 1.9, 1.9, 1.9, 1.9, 1.9, 1.8, 1.6],
   [5.1, 5.4, 5.6, 5.3, 4.4, 3.7, 3.2, 3.0, 2.9, 2.6, 2.4, 2.2, 2.1, 2.1, 1.9],
   [5.3, 5.3, 5.4, 4.9, 4.3, 3.6, 3.2, 2.9, 2.6, 2.2, 2.0, 1.8, 1.7, 1.6, 1.5],
   [5.8, 5.9, 6.0, 4.8, 3.5, 2.7, 2.3, 2.2, 2.1, 2.1, 2.0, 1.9, 1.8, 1.7, 1.5],
   [6.4, 6.6, 6.7, 6.3, 5.4, 4.4, 3.6, 3.2, 3.0, 2.6, 2.3, 2.1, 2.0, 1.9, 1.9],
   [6.3, 6.4, 6.4, 6.2, 5.8, 5.0, 4.2, 3.5, 3.0, 2.6, 2.3, 2.1, 1.9, 1.7, 1.5],
   [5.2, 5.0, 4.9, 4.6, 4.4, 4.0, 3.6, 3.3, 3.1, 2.8, 2.5, 2.3, 2.0, 1.9, 1.7],
   [3.4, 3.5, 3.6, 3.4, 3.0, 2.5, 2.2, 2.0, 1.9, 1.8, 1.7, 1.7, 1.6, 1.5, 1.4],
   [3.2, 3.3, 3.3, 3.2, 3.0, 2.7, 2.4, 2.2, 2.0, 1.8, 1.6, 1.6, 1.6, 1.5, 1.3],
   [2.9, 3.0, 3.2, 3.3, 3.0, 2.6, 2.3, 2.1, 2.0, 1.9, 1.8, 1.9, 1.9, 1.8, 1.6],
   [4.5, 4.7, 5.0, 5.2, 4.8, 4.2, 3.6, 3.0, 2.7, 2.4, 2.2, 2.0, 1.9, 1.8, 1.6],
   [6.0, 6.2, 6.3, 6.0, 5.2, 4.3, 3.5, 3.0, 2.7, 2.5, 2.3, 2.2, 2.1, 2.0, 1.9],
   [5.3, 5.6, 6.2, 6.5, 5.9, 4.9, 4.0, 3.4, 3.0, 2.7, 2.5, 2.3, 2.2, 2.1, 2.0],
   [6.6, 6.6, 6.5, 6.3, 5.8, 5.0, 4.1, 3.4, 2.9, 2.6, 2.4, 2.3, 2.2, 2.1, 1.8],
   [4.9, 5.1, 5.2, 4.9, 4.3, 3.6, 3.1, 2.8, 2.5, 2.3, 2.1, 2.0, 1.9, 1.8, 1.7],
   [2.8, 2.9, 3.0, 3.0, 2.8, 2.6, 2.4, 2.3, 2.2, 2.1, 2.0, 1.9, 1.9, 1.7, 1.5],
   [3.5, 3.3, 3.4, 3.6, 3.4, 3.0, 2.7, 2.5, 2.3, 2.2, 2.1, 2.0, 1.9, 1.8, 1.7],
]
HI_JUMP_YEARS = [1950, 1955, 1960, 1965, 1967, 1968, 1970, 1975, 1980, 1985,
                 1990, 1995, 2000, 2005, 2010, 2015, 2023]
HI_JUMP_TFR = [3.0, 3.1, 3.0, 2.9, 2.8, 7.6, 7.3, 6.5, 5.5, 4.8,
               4.2, 3.5, 2.7, 2.3, 2.0, 1.7, 1.4]
HI_SPIKE_YEARS = [1950, 1955, 1960, 1965, 1970, 1975, 1980, 1985, 1990, 1995,
                  2000, 2005, 2010, 2013, 2016, 2023]
HI_SPIKE_TFR = [5.0, 5.2, 5.4, 5.2, 4.6, 4.0, 3.5, 3.3, 3.2, 3.0,
                2.8, 2.7, 2.9, 3.5, 2.9, 2.5]

PANEL_TITLES = ["Low income", "Lower middle income", "Upper middle income", "High income"]
X_TICKS = [1960, 1990, 2020]
Y_TICKS = [0, 2, 4, 6, 8]

BG = "#fdf1e6"
LINE_C = "#bcb6b0"
GRID_C = "#dbd2c9"
AXIS_C = "#a9a29c"
TEXT_C = "#55504c"

panels = [
   (LOW_INCOME, [(NK_YEARS, NK_TFR)]),
   (LOWER_MIDDLE, [(KH_YEARS, KH_TFR), (LM_DIP_YEARS, LM_DIP_TFR)]),
   (UPPER_MIDDLE, [(CN_YEARS, CN_TFR)]),
   (HIGH_INCOME, [(HI_JUMP_YEARS, HI_JUMP_TFR), (HI_SPIKE_YEARS, HI_SPIKE_TFR)]),
]

W, H = 1200, 387
fig = plt.figure(figsize=(W / 100, H / 100), dpi=100, facecolor=BG)

for i, (series, extra) in enumerate(panels):
   left = 63 + 272 * i
   ax = fig.add_axes([left / W, 99 / H, 250 / W, 242 / H])
   ax.set_facecolor(BG)
   ax.set_xlim(1950, 2023)
   ax.set_ylim(0, 9)
   for y in Y_TICKS[1:]:
      ax.axhline(y, color=GRID_C, linewidth=1.1, zorder=0)
   for vals in series:
      ax.plot(YEARS, vals, color=LINE_C, linewidth=0.9, alpha=0.75, zorder=2)
   for yrs, vals in extra:
      ax.plot(yrs, vals, color=LINE_C, linewidth=0.9, alpha=0.75, zorder=2)

   for s in ["top", "right", "left"]:
      ax.spines[s].set_visible(False)
   ax.spines["bottom"].set_color(AXIS_C)
   ax.spines["bottom"].set_linewidth(1.1)
   ax.spines["bottom"].set_zorder(3)
   ax.set_xticks(X_TICKS)
   ax.set_xticklabels([str(x) for x in X_TICKS], family="Lato", fontsize=10.5, color=TEXT_C)
   ax.tick_params(axis="x", length=4, width=1, color=AXIS_C, pad=4.5)
   if i == 0:
      ax.set_yticks(Y_TICKS)
      ax.set_yticklabels([str(y) for y in Y_TICKS], family="Lato", fontsize=10.5, color=TEXT_C)
      ax.tick_params(axis="y", length=0, pad=10.5)
   else:
      ax.set_yticks([])

   fig.text(left / W, 1 - 28 / H, PANEL_TITLES[i], family="Lato", fontweight="bold",
            fontsize=9.2, color="#1a1817", ha="left", va="center")

# tooltip overlay from the screenshot
fig.text(323 / W, 1 - 41.5 / H, "Interactive or visual content", family="Liberation Sans",
         fontsize=7.8, color="#444444", ha="center", va="center", zorder=10,
         bbox=dict(boxstyle="square,pad=0.4", fc="#e6e4e1", ec="#cfcdca", lw=0.8))

# source line, the link part underlined
src = fig.text(40 / W, 1 - 358 / H, "Source: ", family="Lato", fontsize=8,
               color=TEXT_C, ha="left", va="center")
fig.canvas.draw()
bb = src.get_window_extent()
link = fig.text(bb.x1 / W, 1 - 358 / H, "UN World Population Prospects", family="Lato",
                fontsize=8, color=TEXT_C, ha="left", va="center")
fig.canvas.draw()
lb = link.get_window_extent()
fig.add_artist(Line2D([lb.x0 / W, lb.x1 / W], [(lb.y0 - 0.5) / H, (lb.y0 - 0.5) / H],
                      color=TEXT_C, linewidth=0.8))

plt.savefig("out.png", dpi=100, facecolor=BG)
